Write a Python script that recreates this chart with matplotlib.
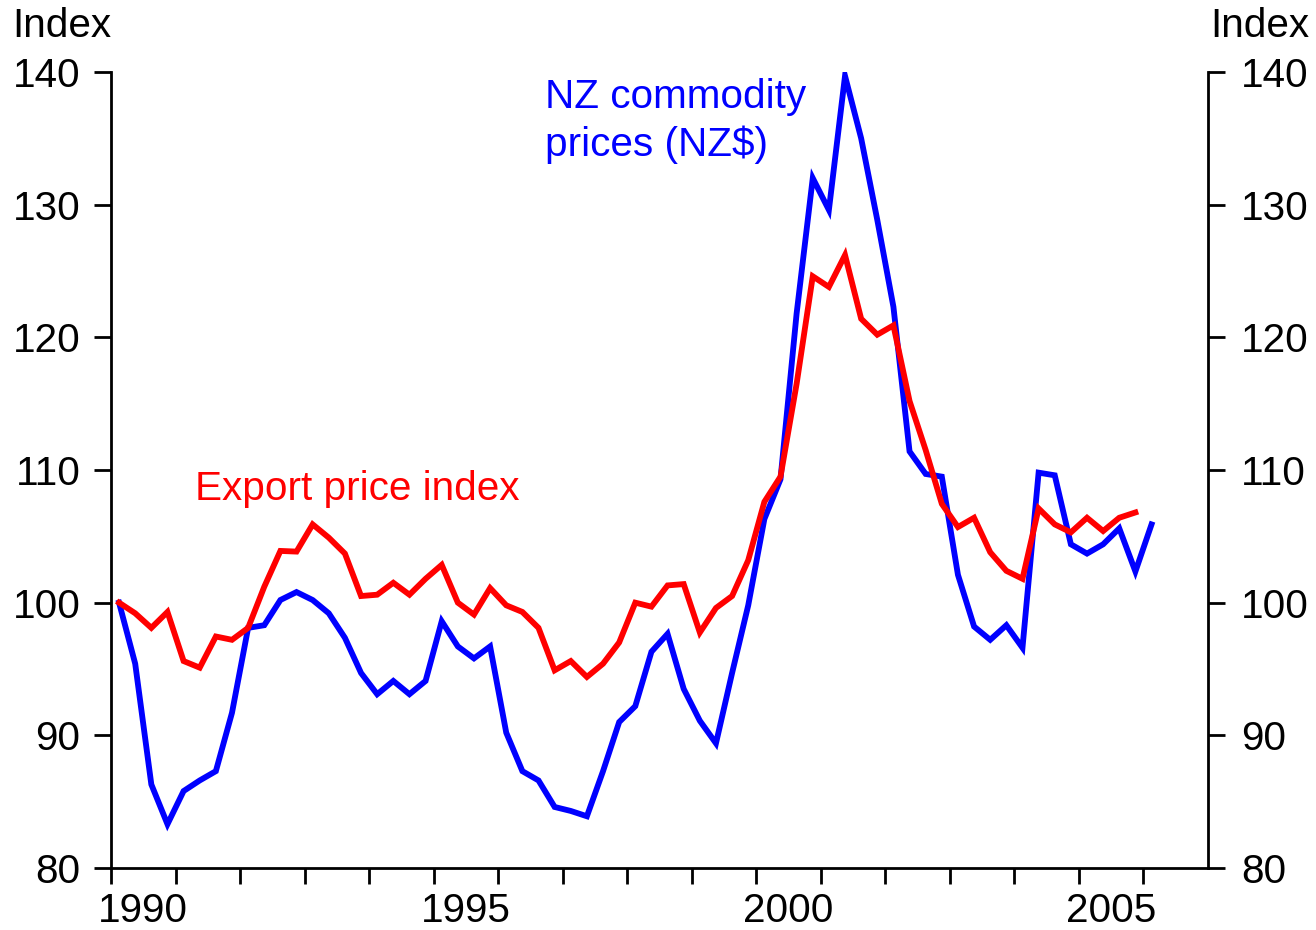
import numpy as np
import pandas as pd
import matplotlib
matplotlib.use("Agg")
import matplotlib.pyplot as plt
from matplotlib.ticker import FixedLocator, NullFormatter, FixedFormatter

# ---- data (quarterly index, 1990Q1 = 100) ----
commodity_nzd = [
    100.0, 95.4, 86.3, 83.3, 85.8, 86.6, 87.3, 91.7,
    98.1, 98.3, 100.2, 100.8, 100.2, 99.2, 97.35, 94.7,
    93.1, 94.1, 93.1, 94.1, 98.6, 96.7, 95.8, 96.7,
    90.2, 87.3, 86.6, 84.6, 84.3, 83.9, 87.3, 91.0,
    92.2, 96.3, 97.65, 93.5, 91.1, 89.4, 94.7, 99.8,
    106.3, 109.3, 121.8, 132.0, 129.6, 139.7, 135.0, 128.85,
    122.3, 111.4, 109.7, 109.5, 102.1, 98.2, 97.2, 98.3,
    96.6, 109.8, 109.6, 104.4, 103.7, 104.4, 105.6, 102.35,
    105.9,
]
export_price = [
    100.0, 99.2, 98.1, 99.3, 95.6, 95.1, 97.45, 97.2,
    98.1, 101.2, 103.9, 103.85, 105.9, 104.9, 103.7, 100.5,
    100.6, 101.5, 100.6, 101.8, 102.85, 100.0, 99.1, 101.1,
    99.8, 99.3, 98.1, 94.9, 95.6, 94.4, 95.4, 97.0,
    100.0, 99.7, 101.3, 101.4, 97.75, 99.6, 100.5, 103.2,
    107.6, 109.5, 116.5, 124.6, 123.8, 126.2, 121.4, 120.2,
    120.9, 115.2, 111.5, 107.45, 105.7, 106.4, 103.8, 102.4,
    101.8, 107.1, 105.9, 105.3, 106.4, 105.4, 106.4, 106.8,
]
year_labels = ["1990", "1995", "2000", "2005"]
y_ticks = [80, 90, 100, 110, 120, 130, 140]

def quarter_mid(n, start="1990Q1"):
    p = pd.period_range(start, periods=n, freq="Q")
    return np.array([q.year + (q.quarter - 0.5) / 4 for q in p])

x_com = quarter_mid(len(commodity_nzd))
x_exp = quarter_mid(len(export_price))

plt.rcParams["font.family"] = ["Liberation Sans", "DejaVu Sans"]
FS = 29.2

fig = plt.figure(figsize=(13.16, 9.30), dpi=100)
ax = fig.add_axes([111 / 1316, 1 - 868 / 930, (1208 - 111) / 1316, (868 - 72) / 930])

ax.plot(x_com, commodity_nzd, color="#0000FF", lw=4.2, solid_joinstyle="miter", zorder=3)
ax.plot(x_exp, export_price, color="#FF0000", lw=4.2, solid_joinstyle="miter", zorder=4)

ax.set_xlim(1990, 2007)
ax.set_ylim(80, 140)

# x ticks: marks at year boundaries, labels at mid-year
ax.xaxis.set_major_locator(FixedLocator(np.arange(1990, 2007)))
ax.xaxis.set_major_formatter(NullFormatter())
ax.xaxis.set_minor_locator(FixedLocator([int(s) + 0.5 for s in year_labels]))
ax.xaxis.set_minor_formatter(FixedFormatter(year_labels))
ax.tick_params(axis="x", which="major", direction="out", length=11.5, width=2.0)
ax.tick_params(axis="x", which="minor", length=0, pad=17, labelsize=FS)

ax.set_yticks(y_ticks)
ax.tick_params(axis="y", which="major", direction="out", length=12, width=2.0,
               labelsize=FS, pad=10, left=True, right=False)

ax2 = ax.twinx()
ax2.set_ylim(80, 140)
ax2.set_yticks(y_ticks)
ax2.tick_params(axis="y", direction="out", length=12, width=2.0, labelsize=FS, pad=12)

for a in (ax, ax2):
    a.spines["top"].set_visible(False)
    for s in ("left", "right", "bottom"):
        a.spines[s].set_linewidth(2.0)
ax2.spines["left"].set_visible(False)
ax2.spines["bottom"].set_visible(False)
ax.spines["right"].set_visible(False)

fig.text(12 / 1316, 1 - 26 / 930, "Index", fontsize=FS, ha="left", va="center")
fig.text(1309 / 1316, 1 - 26 / 930, "Index", fontsize=FS, ha="right", va="center")

ax.text(1991.3, 108.6, "Export price index", color="#FF0000", fontsize=FS,
        ha="left", va="center")
ax.text(1996.72, 136.3, "NZ commodity\nprices (NZ$)", color="#0000FF", fontsize=FS,
        ha="left", va="center", linespacing=1.32)

fig.savefig("out.png", dpi=100)
